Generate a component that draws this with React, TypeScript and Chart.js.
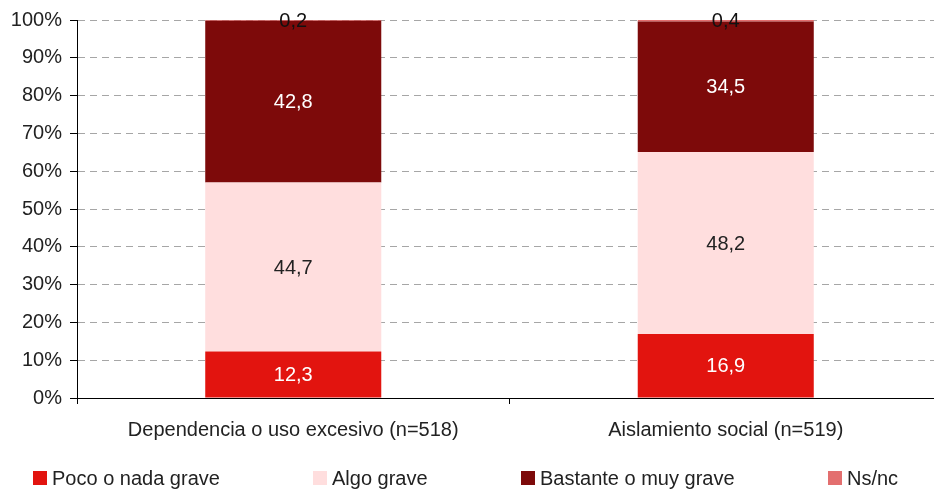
import React, { useEffect, useRef } from "react";
import { Chart, registerables } from "chart.js";

Chart.register(...registerables);

const categories = ["Dependencia o uso excesivo (n=518)", "Aislamiento social (n=519)"];
const seriesLabels = ["Poco o nada grave", "Algo grave", "Bastante o muy grave", "Ns/nc"];
const pocoValues = [12.3, 16.9];
const algoValues = [44.7, 48.2];
const bastanteValues = [42.8, 34.5];
const nsncValues = [0.2, 0.4];
const seriesColors = ["#E2140F", "#FFDEDE", "#7D0A0A", "#E36F6F"];
const valueLabelColors = ["#FFFFFF", "#222222", "#FFFFFF", "#111111"];
const yTickStep = 10;

const FONT = "'Liberation Sans', Arial, sans-serif";

const valueLabelPlugin = {
  id: "valueLabels",
  afterDatasetsDraw(chart: any) {
    const ctx = chart.ctx;
    ctx.save();
    ctx.font = `20px ${FONT}`;
    ctx.textAlign = "center";
    ctx.textBaseline = "middle";
    chart.data.datasets.forEach((ds: any, i: number) => {
      const meta = chart.getDatasetMeta(i);
      meta.data.forEach((el: any, j: number) => {
        const v = ds.data[j];
        const p = el.getProps(["x", "y", "base"], true);
        ctx.fillStyle = valueLabelColors[i];
        ctx.fillText(v.toFixed(1).replace(".", ","), p.x, (p.y + p.base) / 2 + 1);
      });
    });
    ctx.restore();
  },
};

const legendPlugin = {
  id: "customLegend",
  afterDraw(chart: any) {
    const ctx = chart.ctx;
    ctx.save();
    ctx.font = `20px ${FONT}`;
    const box = 14;
    const textGap = 5;
    const gap = 93.5;
    const widths = chart.data.datasets.map((ds: any) => box + textGap + ctx.measureText(ds.label).width);
    const total = widths.reduce((a: number, b: number) => a + b, 0) + gap * (widths.length - 1);
    let x = 465.5 - total / 2;
    const cy = 478;
    chart.data.datasets.forEach((ds: any, i: number) => {
      ctx.fillStyle = ds.backgroundColor;
      ctx.fillRect(Math.round(x), cy - box / 2, box, box);
      ctx.fillStyle = "#222222";
      ctx.textAlign = "left";
      ctx.textBaseline = "middle";
      ctx.fillText(ds.label, Math.round(x) + box + textGap, cy + 1);
      x += widths[i] + gap;
    });
    ctx.restore();
  },
};

export default function App() {
  const canvasRef = useRef<HTMLCanvasElement | null>(null);

  useEffect(() => {
    if (!canvasRef.current) return;
    const seriesValues = [pocoValues, algoValues, bastanteValues, nsncValues];
    const chart = new Chart(canvasRef.current, {
      type: "bar",
      data: {
        labels: categories,
        datasets: seriesLabels.map((label, i) => ({
          label,
          data: seriesValues[i],
          backgroundColor: seriesColors[i],
          borderWidth: 0,
          barPercentage: 0.407,
          categoryPercentage: 1,
        })),
      },
      options: {
        responsive: false,
        animation: false,
        devicePixelRatio: 1,
        layout: { padding: { top: 20, left: 0, right: 0, bottom: 0 } },
        plugins: {
          legend: { display: false },
          tooltip: { enabled: false },
        },
        scales: {
          x: {
            stacked: true,
            grid: {
              drawOnChartArea: false,
              drawTicks: true,
              tickLength: 6,
              tickColor: "#000000",
              offset: true,
            },
            border: { color: "#000000", width: 1 },
            ticks: {
              color: "#222222",
              font: { size: 20, family: FONT },
              padding: 14,
              maxRotation: 0,
            },
            afterFit: (s: any) => {
              s.height = 92;
            },
          },
          y: {
            stacked: true,
            min: 0,
            max: 100,
            ticks: {
              stepSize: yTickStep,
              callback: (v: any) => v + "%",
              color: "#222222",
              font: { size: 20, family: FONT },
              padding: 8,
            },
            grid: {
              color: "#A6A6A6",
              lineWidth: 1,
              tickLength: 7,
              tickColor: "#000000",
              tickBorderDash: [],
            },
            border: { color: "#000000", width: 1, dash: [7, 5] },
            afterFit: (s: any) => {
              s.width = 77;
            },
          },
        },
      },
      plugins: [valueLabelPlugin, legendPlugin],
    });
    return () => chart.destroy();
  }, []);

  return (
    <div style={{ position: "absolute", left: 0, top: 0, width: 934, height: 490, overflow: "hidden", background: "#fff" }}>
      <canvas ref={canvasRef} width={942} height={490} style={{ display: "block" }} />
    </div>
  );
}
